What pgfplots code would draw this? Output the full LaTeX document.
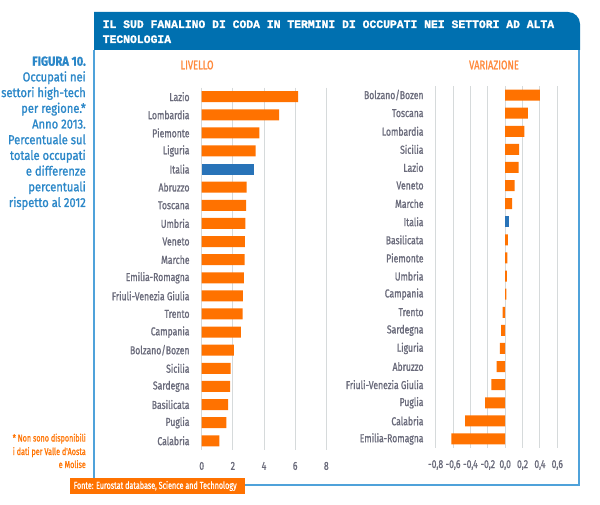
\documentclass[border=0pt]{standalone}
\usepackage{pgfplots}
\pgfplotsset{compat=1.18}
\usepackage{pgfplotstable}
\usepackage{fontspec}
\setmainfont{Fira Sans}[FakeStretch=0.75, FakeBold=1.2]
\newfontfamily\capfont{Fira Sans}[FakeStretch=0.86, FakeBold=1.2]
\newfontfamily\narrowfont{Fira Sans}[FakeStretch=0.72, FakeBold=0.8]
\newfontfamily\titlefont{Liberation Mono}[FakeBold=1.5]
\definecolor{barorange}{HTML}{FF7200}
\definecolor{hdrorange}{HTML}{FF8A3D}
\definecolor{italblue}{HTML}{2873B8}
\definecolor{titleblue}{HTML}{0070B0}
\definecolor{panelblue}{HTML}{4FA2DA}
\definecolor{textblue}{HTML}{2B87C8}
\definecolor{labgray}{HTML}{6A6B7B}
\definecolor{gridgray}{HTML}{D6DADB}

\pgfplotstableread{
y val
0 6.19
1 4.97
2 3.70
3 3.46
5 2.88
6 2.86
7 2.81
8 2.77
9 2.75
10 2.71
11 2.65
12 2.62
13 2.52
14 2.06
15 1.85
16 1.83
17 1.70
18 1.59
19 1.14
}\livello
\pgfplotstableread{
y val
4 3.39
}\livelloit
\pgfplotstableread{
y val
0 0.40
1 0.26
2 0.22
3 0.16
4 0.155
5 0.11
6 0.08
8 0.03
9 0.025
10 0.02
11 0.015
12 -0.03
13 -0.046
14 -0.06
15 -0.10
16 -0.16
17 -0.23
18 -0.46
19 -0.62
}\variazione
\pgfplotstableread{
y val
7 0.04
}\variazioneit

\pgfplotsset{
  panelstyle/.style={
    scale only axis,
    y dir=reverse,
    ymin=-0.5, ymax=19.5,
    ytick={0,...,19},
    axis line style={draw=none},
    major tick length=0pt,
    xmajorgrids,
    grid style={gridgray, line width=0.9pt},
    tick label style={labgray, font=\fontsize{11.5}{13}\selectfont},
    yticklabel style={inner sep=0pt, xshift=-12pt},
    xticklabel style={inner sep=0pt, yshift=-12pt},
    /pgf/number format/assume math mode=true,
    xbar, bar shift=0pt, bar width=11pt,
  },
}

\begin{document}
\begin{tikzpicture}
\begin{scope}[x=1pt,y=-1pt]
\path[use as bounding box] (0,0) rectangle (600,505);

% title box
\fill[titleblue] (94,50) -- (94,12) [rounded corners=12pt]-- (580,12) [sharp corners]-- (580,50) -- cycle;
\node[anchor=base west, inner sep=0, text=white, font=\titlefont\bfseries\fontsize{11.4}{13}\selectfont] at (102.5,28) {IL SUD FANALINO DI CODA IN TERMINI DI OCCUPATI NEI SETTORI AD ALTA};
\node[anchor=base west, inner sep=0, text=white, font=\titlefont\bfseries\fontsize{11.4}{13}\selectfont] at (102.5,43) {TECNOLOGIA};

% panel
\draw[panelblue, line width=1.3pt] (94,50) -- (94,485) -- (579,485) -- (579,50);

% left caption
\node[anchor=base east, inner sep=0, text=textblue, font=\capfont\bfseries\fontsize{13}{15}\selectfont] at (86,65.7) {FIGURA 10.};
\foreach \t [count=\i] in {Occupati nei, settori high-tech, per regione.*, Anno 2013., Percentuale sul, totale occupati, e differenze, percentuali, rispetto al 2012}{
  \node[anchor=base east, inner sep=0, text=textblue, font=\capfont\fontsize{13}{15}\selectfont] at (86,65.7+15.7*\i) {\t};
}
% footnote
\node[anchor=base east, inner sep=0, text=barorange, font=\narrowfont\fontsize{10}{12}\selectfont] at (86,441.5) {* Non sono disponibili};
\node[anchor=base east, inner sep=0, text=barorange, font=\narrowfont\fontsize{10}{12}\selectfont] at (86,455) {i dati per Valle d'Aosta};
\node[anchor=base east, inner sep=0, text=barorange, font=\narrowfont\fontsize{10}{12}\selectfont] at (86,468) {e Molise};

% headers
\node[inner sep=0, text=hdrorange, font=\fontsize{12.5}{14}\selectfont] at (197,65) {LIVELLO};
\node[inner sep=0, text=hdrorange, font=\fontsize{12.5}{14}\selectfont] at (494,65) {VARIAZIONE};
\end{scope}

% left chart
\begin{axis}[panelstyle,
  at={(201.7pt,-449.8pt)}, anchor=south west,
  width=124.6pt, height=362.2pt,
  xmin=0, xmax=8, xtick={0,2,4,6,8},
  yticklabels={Lazio,Lombardia,Piemonte,Liguria,Italia,Abruzzo,Toscana,Umbria,Veneto,Marche,Emilia-Romagna,Friuli-Venezia Giulia,Trento,Campania,Bolzano/Bozen,Sicilia,Sardegna,Basilicata,Puglia,Calabria},
]
\addplot[fill=barorange, draw=none] table[x=val, y=y] {\livello};
\addplot[fill=italblue, draw=none] table[x=val, y=y] {\livelloit};
\end{axis}

% right chart
\begin{axis}[panelstyle,
  at={(435.7pt,-448pt)}, anchor=south west,
  width=121.6pt, height=362pt,
  xmin=-0.8, xmax=0.6, xtick={-0.8,-0.6,-0.4,-0.2,0,0.2,0.4,0.6},
  xticklabel style={/pgf/number format/.cd, fixed, fixed zerofill, precision=1, use comma},
  yticklabels={Bolzano/Bozen,Toscana,Lombardia,Sicilia,Lazio,Veneto,Marche,Italia,Basilicata,Piemonte,Umbria,Campania,Trento,Sardegna,Liguria,Abruzzo,Friuli-Venezia Giulia,Puglia,Calabria,Emilia-Romagna},
]
\addplot[fill=barorange, draw=none] table[x=val, y=y] {\variazione};
\addplot[fill=italblue, draw=none] table[x=val, y=y] {\variazioneit};
\end{axis}

% fonte box
\begin{scope}[x=1pt,y=-1pt]
\fill[barorange] (70,478) rectangle (245,494);
\node[anchor=west, inner sep=0, text=white, font=\narrowfont\fontsize{10}{12}\selectfont] at (73.5,486) {Fonte: Eurostat database, Science and Technology};
\end{scope}
\end{tikzpicture}
\end{document}
